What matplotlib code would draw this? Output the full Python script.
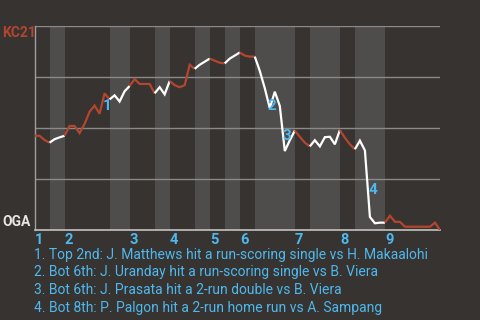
import matplotlib.pyplot as plt

# win probability for KC21 after each play (0 = OGA wins, 1 = KC21 wins)
win_prob = [
    0.462, 0.462, 0.441, 0.428, 0.445, 0.454, 0.462, 0.510, 0.510, 0.475,
    0.520, 0.580, 0.610, 0.570, 0.670, 0.640, 0.660, 0.630, 0.680, 0.706,
    0.740, 0.716, 0.716, 0.716, 0.670, 0.700, 0.665, 0.730, 0.710, 0.700,
    0.710, 0.810, 0.790, 0.810, 0.825, 0.840, 0.830, 0.820, 0.817, 0.840,
    0.855, 0.870, 0.855, 0.850, 0.850, 0.780, 0.695, 0.597, 0.678, 0.608,
    0.387, 0.440, 0.487, 0.457, 0.428, 0.410, 0.440, 0.410, 0.455, 0.457,
    0.420, 0.490, 0.452, 0.420, 0.396, 0.438, 0.390, 0.064, 0.033, 0.036,
    0.036, 0.070, 0.040, 0.040, 0.016, 0.016, 0.016, 0.016, 0.016, 0.016,
    0.036, 0.000,
]

# play index where each half inning starts (top 1st, bot 1st, top 2nd, ...)
half_starts = [0, 3, 6, 15, 19, 24, 27, 32, 35, 38, 41, 44, 52, 55, 61, 64, 70]
n_plays = len(win_prob) - 1

innings = ["1", "2", "3", "4", "5", "6", "7", "8", "9"]

event_ids = ["1", "2", "3", "4"]
event_x = [14.4, 47.4, 50.4, 67.6]
event_y = [0.608, 0.608, 0.461, 0.196]
event_notes = [
    "1. Top 2nd: J. Matthews hit a run-scoring single vs H. Makaalohi",
    "2. Bot 6th: J. Uranday hit a run-scoring single vs B. Viera",
    "3. Bot 6th: J. Prasata hit a 2-run double vs B. Viera",
    "4. Bot 8th: P. Palgon hit a 2-run home run vs A. Sampang",
]

bg = "#363330"
band = "#4f4d4b"
red = "#b4452f"
blue = "#4fb8ee"

plt.rcParams["font.family"] = ["Roboto", "DejaVu Sans"]

fig = plt.figure(figsize=(4.8, 3.2), dpi=100, facecolor=bg)
ax = fig.add_axes([34.5 / 480, 1 - 230 / 320, (440 - 34.5) / 480, 204 / 320])
ax.set_facecolor(bg)
ax.set_xlim(0, n_plays)
ax.set_ylim(0, 1)

# shade bottom halves
bounds = half_starts + [n_plays]
for k in range(len(half_starts)):
    if k % 2 == 1:
        ax.axvspan(bounds[k], bounds[k + 1], color=band, lw=0, zorder=0)

for g in [0.25, 0.5, 0.75, 1.0]:
    ax.axhline(g, color="#8c8a88", lw=1, zorder=1)

# line, coloured by which team is batting
for k in range(len(half_starts)):
    a, b = bounds[k], bounds[k + 1]
    xs = list(range(a, b + 1))
    ys = win_prob[a:b + 1]
    ax.plot(xs, ys, color=red if k % 2 == 0 else "white", lw=1.6,
            solid_capstyle="butt", solid_joinstyle="miter", zorder=3)

for s in ["top", "right"]:
    ax.spines[s].set_visible(False)
ax.spines["left"].set_color("#a09e9c")
ax.spines["bottom"].set_color("#c4c2c0")
ax.spines["left"].set_linewidth(1)
ax.spines["bottom"].set_linewidth(1.2)
ax.set_xticks([])
ax.set_yticks([])

for i, lab in enumerate(innings):
    ax.text(half_starts[2 * i], -0.015, lab, color=blue, fontsize=10.5,
            fontweight="bold", ha="left", va="top")

for lab, x, y in zip(event_ids, event_x, event_y):
    ax.text(x, y, lab, color=blue, fontsize=11, fontweight="bold",
            ha="center", va="center", zorder=4)

fig.text(2 / 480, 1 - 33 / 320, "KC21", color=red, fontsize=10,
         fontweight="bold", va="center")
fig.text(2 / 480, 1 - 222 / 320, "OGA", color="#e8e6e4", fontsize=10,
         fontweight="bold", va="center")

for j, note in enumerate(event_notes):
    fig.text(34 / 480, 1 - (254.5 + 17.8 * j) / 320, note, color=blue,
             fontsize=10, va="center")

fig.savefig("out.png", dpi=100, facecolor=bg)
